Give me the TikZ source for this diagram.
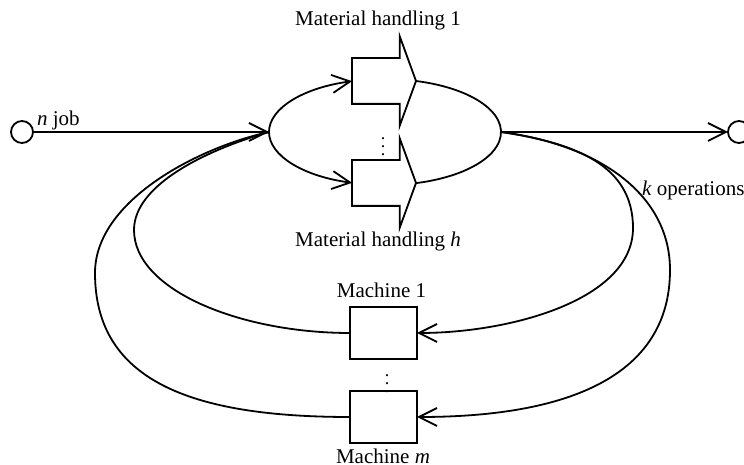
\documentclass[tikz,border=0pt]{standalone}
\usepackage{fontspec}
\setmainfont{Liberation Serif}
\usepackage{tikz}
\usetikzlibrary{shapes,shapes.arrows,arrows.meta,positioning}
\tikzstyle{terminal}=[draw, circle, minimum size=11pt, inner sep=0pt, outer sep=0pt, line width=0.9pt]
\tikzstyle{handling}=[draw, single arrow, minimum height=32pt, inner xsep=0pt, inner ysep=11pt, single arrow head extend=11pt, single arrow tip angle=140, outer sep=0pt, line width=0.9pt]
\tikzstyle{machine}=[draw, rectangle, minimum width=33.5pt, minimum height=26pt, inner sep=0pt, outer sep=0pt, line width=0.9pt]
\tikzstyle{flow}=[line width=0.9pt]
\tikzstyle{dots}=[inner sep=0pt, font=\fontsize{9}{9}\selectfont]

\begin{document}
\begin{tikzpicture}[x=0.5pt, y=0.5pt, >={Straight Barb[length=9pt,width=9pt]}, font=\fontsize{10.5}{12}\selectfont]
\useasboundingbox (0,0) rectangle (744,465);
\clip (0,0) rectangle (744,465);

% in and out
\node[terminal] (src) at (22,333) {};
\node[terminal] (snk) at (739,333) {};
\node[ellipse, minimum width=116pt, minimum height=53pt, inner sep=0pt, outer sep=0pt] (hub) at (385,333) {};
\draw[flow,->] (src.east) -- (hub.west);
\draw[flow,->] (hub.east) -- (snk.west);
\node[anchor=west] (ljob) at (30,345) {\textit{n} job};

% material handling
\node[handling, anchor=tail] (mh1) at (352,384) {};
\node[handling, anchor=tail] (mhh) at (352,282) {};
\draw[flow,->] (hub.west) arc[start angle=180, end angle=106.5, x radius=116, y radius=53];
\draw[flow,->] (hub.west) arc[start angle=180, end angle=253.5, x radius=116, y radius=53];
\draw[flow] (mh1.tip) arc[start angle=74.5, end angle=-74.5, x radius=116, y radius=53];
\node (lmh1) at (378,445) {Material handling 1};
\node (lmhh) at (378,224) {Material handling \textit{h}};
\node[dots] (dmh) at (383,324) {$\vdots$};

% machines
\node[machine] (mc1) at (383.5,132) {};
\node[machine] (mcm) at (383.5,48) {};
\node (lmc1) at (381.5,175) {Machine 1};
\node (lmcm) at (383,9) {Machine \textit{m}};
\node[dots] (dmc) at (387,87) {$\vdots$};

% k operations
\draw[flow,->] (hub.east) .. controls (575,322) and (633,300) .. (633,237)
    .. controls (633,165) and (510,132) .. (mc1.east);
\draw[flow,->] (hub.east) .. controls (600,320) and (670,270) .. (670,195)
    .. controls (670,90) and (570,48) .. (mcm.east);
\draw[flow] (mc1.west) .. controls (240,132) and (134,175) .. (134,235)
    .. controls (134,280) and (206,315) .. (hub.west);
\draw[flow] (mcm.west) .. controls (190,48) and (95,85) .. (95,192)
    .. controls (95,265) and (200,318) .. (hub.west);
\node[anchor=west] (lops) at (635,275) {\textit{k} operations};

\end{tikzpicture}
\end{document}
